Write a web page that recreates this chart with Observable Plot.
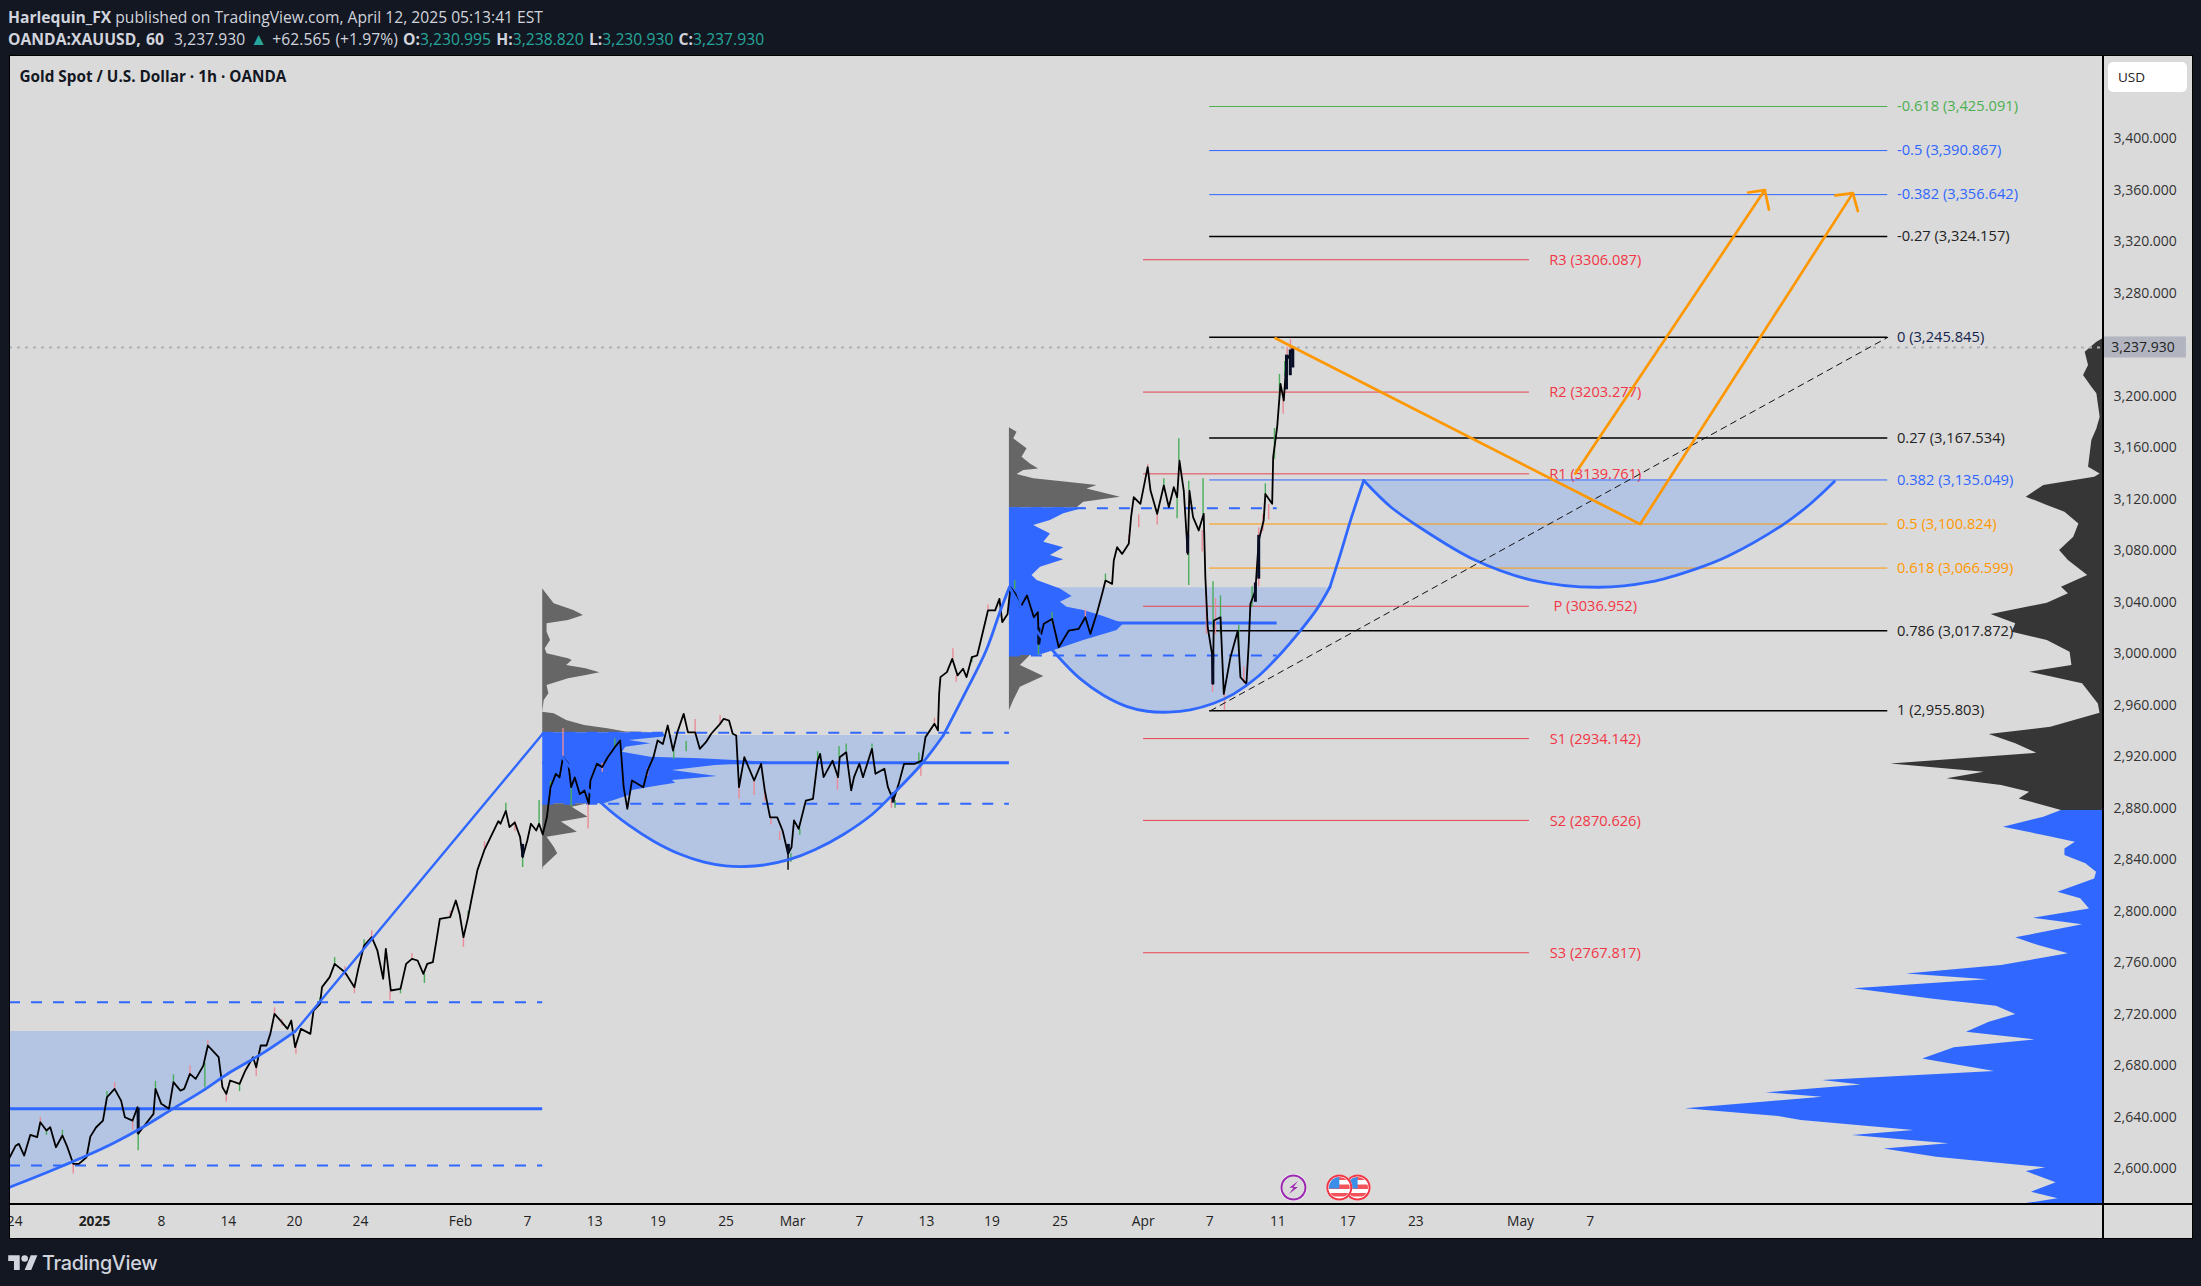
<!DOCTYPE html>
<html><head><meta charset="utf-8">
<script src="https://cdn.jsdelivr.net/npm/d3@7"></script>
<script src="https://cdn.jsdelivr.net/npm/@observablehq/plot@0.6"></script>
<style>
html,body{margin:0;padding:0;background:#131722;width:2201px;height:1286px;overflow:hidden}
body{position:relative;font-family:"Open Sans",sans-serif;color:#d1d4dc}
.h{position:absolute;left:8px;white-space:nowrap;font-size:15.65px;line-height:20px}
.h b{font-weight:700}.t{color:#26a69a}
#chart{position:absolute;left:9px;top:55px}
.ln{position:absolute;background:#000}
#usd{position:absolute;left:2108px;top:62px;width:79px;height:30px;background:#fff;border-radius:5px;color:#222;font-size:13.5px;line-height:30px;text-indent:10px}
#logo{position:absolute;left:8px;top:1251px;display:flex;align-items:center;color:#d1d4dc;font-family:Inter,sans-serif;font-weight:500;font-size:19.8px;letter-spacing:-.3px}
#logo svg{width:30px;height:23px;fill:#d1d4dc;margin-right:4px}
</style></head><body>
<div class="h" style="top:7px"><b>Harlequin_FX</b> published on TradingView.com, April 12, 2025 05:13:41 EST</div>
<div class="h" style="top:29px;word-spacing:1px;letter-spacing:.04px"><b>OANDA:XAUUSD, 60</b>&nbsp; 3,237.930 <span class="t" style="font-size:17px">▲</span> +62.565 (+1.97%) <b>O:</b><span class="t">3,230.995</span> <b>H:</b><span class="t">3,238.820</span> <b>L:</b><span class="t">3,230.930</span> <b>C:</b><span class="t">3,237.930</span></div>
<div id="chart"></div>
<div class="ln" style="left:9px;top:1203px;width:2183px;height:1.5px"></div>
<div class="ln" style="left:2102px;top:55px;width:1.5px;height:1184px"></div>
<div class="ln" style="left:9px;top:1238px;width:2184px;height:1px"></div>
<div class="ln" style="left:2192px;top:55px;width:1px;height:1184px"></div>
<div class="ln" style="left:9px;top:55px;width:2184px;height:1px"></div>
<div class="ln" style="left:8.5px;top:55px;width:1px;height:1184px"></div>
<div id="usd">USD</div>
<div id="logo"><svg viewBox="0 0 36 28"><path d="M14 22H7V11H0V4h14v18zM28 22h-8l7.5-18h8L28 22z"/><circle cx="20" cy="8" r="4"/></svg>TradingView</div>
<script>
// x unit: trading sessions counted from 2 Jan 2025; y unit: USD
const xDomain=[-5.114,120.82], yDomain=[2572.3,3464.7];
const priceTicks=[2600,2640,2680,2720,2760,2800,2840,2880,2920,2960,3000,3040,3080,3120,3160,3200,3280,3320,3360,3400];
const timeTicks=[-4.8,4.03,8.05,12.03,16,22.02,26.05,30.1,33.9,38,42,46.03,50.06,54,58.1,63.1,67.1,71.2,75.4,79.5,85.8,90];
const timeLabels=["24","8","14","20","24","Feb","7","13","19","25","Mar","7","13","19","25","Apr","7","11","17","23","May","7"];
const lastPrice=3237.93;
const fibLevels=[["-0.618",3425.091,"#4caf50"],["-0.5",3390.867,"#2f66ff"],["-0.382",3356.642,"#2f66ff"],["-0.27",3324.157,"#000"],["0",3245.845,"#000"],["0.27",3167.534,"#000"],["0.382",3135.049,"#2f66ff"],["0.5",3100.824,"#ff9800"],["0.618",3066.599,"#ff9800"],["0.786",3017.872,"#000"],["1",2955.803,"#000"]];
const pivots=[["R3",3306.087],["R2",3203.277],["R1",3139.761],["P",3036.952],["S1",2934.142],["S2",2870.626],["S3",2767.817]];
const closes=[[-5.1,2609],[-4.74,2618],[-4.55,2619.4],[-4.23,2610.3],[-3.86,2626.4],[-3.45,2624.6],[-3.26,2636.2],[-2.89,2629.8],[-2.66,2632.3],[-2.32,2616.8],[-1.93,2625.9],[-1.63,2616.8],[-1.28,2603.9],[-.94,2603.9],[-.48,2609],[-.25,2625],[.1,2632.3],[.51,2637.5],[.75,2655.6],[1.21,2662.1],[1.6,2653],[1.83,2640.1],[2.29,2637.5],[2.59,2647.9],[2.63,2627.2],[3.09,2635],[3.55,2642.7],[3.67,2662.1],[4.02,2650.5],[4.48,2646.6],[4.75,2667.3],[5.17,2660.8],[5.4,2662.1],[5.74,2673.8],[6.09,2669.9],[6.55,2680.2],[6.82,2695.8],[7.47,2686.7],[7.7,2663.4],[7.93,2658.2],[8.16,2668.6],[8.73,2666],[9.08,2676.4],[9.54,2686.7],[9.73,2678.9],[10,2695.8],[10.35,2695.8],[10.58,2704.8],[10.83,2720.4],[11.27,2713.9],[11.61,2708.7],[11.84,2715.2],[12.07,2694.5],[12.42,2708.7],[12.99,2704.8],[13.18,2722.9],[13.57,2728.1],[13.69,2741.1],[14.15,2748.9],[14.45,2759.2],[15.07,2752.7],[15.64,2741.1],[15.87,2755.3],[16.22,2773.4],[16.68,2779.9],[17.02,2769.6],[17.37,2747.6],[17.53,2770.9],[17.83,2738.5],[18.41,2739.8],[18.75,2759.2],[19.1,2763.1],[19.44,2761.8],[19.79,2751.4],[20.02,2759.2],[20.36,2760.5],[20.59,2778.6],[20.78,2794.2],[21.4,2795.5],[21.74,2808.4],[21.97,2798],[22.2,2779.9],[22.48,2795.5],[22.67,2808.4],[23.04,2832],[23.47,2848],[24.3,2870],
[24.43,2868],[24.75,2878],[24.97,2865.4],[25.29,2869],[25.61,2857.6],[25.76,2842],[26.04,2855],[26.26,2868],[26.58,2862.8],[26.75,2868],[26.97,2859.7],[27.22,2873],[27.44,2896.4],[27.76,2906.8],[27.98,2904],[28.19,2919.7],[28.51,2914.6],[28.68,2896.4],[28.9,2904],[29.2,2891],[29.48,2893.9],[29.74,2883.5],[29.84,2901.6],[30.23,2914.6],[30.55,2912],[30.88,2919.7],[31.31,2927.5],[31.63,2932.7],[31.84,2896.4],[32.06,2879.6],[32.34,2901.6],[33.02,2896.4],[33.28,2909.4],[33.63,2919.7],[33.88,2932.7],[34.2,2930],[34.49,2944.3],[34.81,2924.9],[35.07,2939],[35.45,2953.4],[35.71,2939],[36.14,2939],[36.42,2926.2],[36.79,2931.4],[37.11,2937.9],[37.64,2945.6],[37.86,2949.5],[38.18,2948.2],[38.4,2937.9],[38.61,2936.6],[38.78,2896.4],[39.1,2919.7],[39.69,2901.6],[40.11,2914.6],[40.33,2893.9],[40.65,2873],[41.08,2873],[41.4,2862.8],[41.73,2844.7],[41.94,2849.8],[42.09,2870.6],[42.37,2864],[42.8,2886],[43.23,2887.4],[43.51,2917],[43.66,2922.3],[43.87,2904.2],[44.41,2917],[44.74,2904.2],[44.84,2919.7],[45.23,2923.6],[45.53,2893.9],[45.7,2904.2],[46.02,2914.6],[46.24,2904.2],[46.78,2926.2],[46.99,2906.8],[47.53,2910.7],[47.74,2896.4],[48.07,2886],[48.39,2899],[48.71,2914.6],[49.36,2914.6],[49.78,2917],[50,2935.3],[50.54,2945.6],[50.75,2940.5],[50.82,2968.9],[50.9,2981.9],[51.29,2985.8],[51.61,2996.1],[51.93,2983.2],[52.26,2988.4],[52.47,2981.9],[52.79,2997.4],[53.11,2998.7],[53.33,3010.4],[53.76,3033.7],[54.19,3033.7],[54.45,3042.7],[54.62,3024.6],[54.94,3031],
[55.11,3051.7],[55.41,3046.6],[55.71,3036.2],[56.11,3045.3],[56.52,3028.4],[56.76,3032.3],[56.82,3007.7],[57.12,3023.3],[57.62,3027.1],[58.02,3005.1],[58.62,3018],[59.22,3019.4],[59.62,3028.4],[59.92,3015.5],[60.33,3032.3],[60.63,3046.6],[60.83,3056.9],[61.23,3054.3],[61.33,3072.5],[61.53,3082.8],[61.83,3077.6],[62.23,3085.4],[62.37,3106.1],[62.53,3121.6],[62.93,3116.5],[63.37,3145],[63.54,3126.8],[63.94,3108.7],[64.34,3130.7],[64.64,3113.9],[64.94,3129.4],[65.14,3121.6],[65.28,3150.1],[65.54,3126.8],[65.78,3077.6],[65.88,3126.8],[66.1,3106.1],[66.44,3095.8],[66.74,3108.7],[66.84,3059.5],[66.98,3020.7],[67.24,3000],[67.29,2976.7],[67.35,3025.9],[67.75,3028.4],[67.95,2968.9],[68.35,2997.4],[68.79,3018],[68.95,2981.8],[69.31,2976.7],[69.45,3007.7],[69.55,3038.8],[69.85,3049.2],[70.05,3088],[70.35,3103.5],[70.45,3124.2],[70.86,3116.5],[70.92,3152.7],[71.16,3176],[71.36,3209.7],[71.56,3196.7],[71.72,3227.8],[72.06,3235.6],[72.16,3237.93]];
// [session, low, high, up?]
const wicks=[[2.63,2614,2627,1],[-1.28,2596,2606,0],[6.64,2663,2682,1],[12.12,2689,2695,0],[17.78,2731,2738,0],[19.85,2744,2751,1],[22.2,2772,2780,0],[16.68,2780,2785,0],[15.64,2736,2741,0],[25.76,2834,2842,1],[26.75,2868,2886,1],[28.19,2917,2942,0],[29.7,2864,2884,0],[28.68,2881,2896,1],[34.85,2918,2925,1],[36.14,2937,2949,0],[35.6,2924,2932,1],[38.78,2887,2896,0],[39.69,2890,2901,0],[40.7,2867,2873,0],[41.23,2855,2862,0],[41.73,2832,2845,2],[41.9,2838,2845,1],[42.44,2859,2864,1],[44.7,2894,2904,0],[44.8,2919,2928,1],[46.78,2926,2930,1],[48.17,2880,2886,1],[47.95,2880,2888,0],[49.72,2905,2914,0],[49.6,2914,2923,1],[51.65,2996,3004,0],[51.85,2978,2983,0],[56.8,2999,3013,1],[65.24,3150,3167,1],[63.37,3145,3147,0],[62.83,3098,3108,0],[63.94,3100,3109,0],[65.14,3105,3121,1],[65.84,3053,3078,1],[65.84,3127,3134,1],[66.7,3108,3136,1],[66.65,3079,3096,0],[65.74,3078,3093,0],[66.9,3015,3049,0],[67.3,3020,3056,1],[67.27,2970,3000,0],[67.45,3015,3043,0],[67.75,3015,3045,1],[67.99,2956,2969,0],[68.85,3003,3022,1],[69.15,2977,2990,0],[69.65,3036,3052,1],[70.05,3052,3098,0],[70.3,3095,3108,0],[70.65,3104,3116,0],[70.45,3122,3132,1],[71,3151,3175,1],[71.3,3199,3217,1],[71.52,3186,3197,0],[71.76,3212,3238,0],[71.96,3220,3244,0],[71.62,3215,3227,1],
[-3.26,2636,2640,0],[-2.89,2626,2630,1],[-1.93,2626,2630,1],[.75,2655,2660,1],[1.21,2662,2667,0],[2.3,2630,2638,0],[3.67,2662,2668,1],[4.75,2667,2673,1],[5.74,2673,2680,0],[6.82,2696,2700,0],[7.93,2652,2658,0],[8.73,2660,2666,1],[9.73,2672,2679,0],[10.83,2720,2725,0],[11.27,2711,2716,0],[13.57,2728,2733,1],[14.45,2759,2764,1],[15.07,2750,2757,0],[16.22,2772,2778,1],[18.41,2736,2741,1],[19.1,2763,2767,0],[21.4,2796,2800,0],[22.48,2795,2800,1],[23.47,2848,2854,0],[24.75,2878,2884,1],[25.29,2862,2870,0],[27.44,2896,2901,1],[30.55,2908,2915,0],[31.31,2927,2934,1],[33.28,2905,2911,0],[37.64,2945,2952,0],[40.33,2885,2895,0],[43.51,2917,2924,1],[45.23,2924,2930,1],[50.54,2945,2950,0],[52.79,2993,2998,1],[53.76,3033,3038,0],[55.37,3050,3057,1],[57.62,3023,3032,1],[59.62,3028,3034,0],[60.83,3057,3062,1],[62.23,3085,3092,0],[64.34,3130,3136,1]];
const bodies=[[56.82,3007,3020],[65.78,3078,3092],[67.29,2976,3000],[69.85,3040,3055],[70.05,3058,3092],[71.72,3205,3232],[71.95,3216,3236],[72.1,3222,3237],[48.05,2884,2892],[41.75,2845,2852],[25.76,2842,2852],[2.63,2627,2647]];
const cup1=[[-5.11,2585.7],[-3.58,2593.5],[-1.86,2602.6],[-.36,2610.9],[1.25,2620.7],[2.98,2632.9],[4.71,2646.6],[6.43,2660],[8.16,2675],[10.23,2690.6],[12.07,2706.7]];
const rise1=[[12.07,2706.7],[26.97,2937.9]];
const cup2=[[26.97,2937.9],[28.3,2917],[29.59,2896.4],[30.66,2882.2],[32.17,2866.7],[33.67,2854.3],[35.17,2844.7],[36.68,2838.2],[37.97,2835.3],[39.15,2834.8],[40.33,2836.1],[41.83,2840.3],[43.34,2847.8],[45.06,2859.7],[46.78,2875.2],[48.07,2891.3],[49.78,2914.6],[51.07,2936.6]];
const rise2=[[51.07,2936.6],[52.36,2968.9],[53.65,3002.6],[54.51,3033.7],[55.05,3051.8]];
const cup3=[[55.05,3051.7],[56.52,3020.7],[57.92,2998.7],[59.32,2980.5],[60.73,2967.6],[62.13,2959],[63.33,2955.4],[64.64,2954.7],[65.94,2956.5],[67.35,2961.6],[68.55,2968.9],[69.95,2981.8],[71.36,2999.9],[72.56,3018],[73.56,3034.9],[74.33,3051.7]];
const rise3=[[74.33,3051.7],[74.97,3077.6],[75.57,3103.5],[76.37,3134.6]];
const cup4=[[76.37,3134.6],[78,3114],[79.66,3098.9],[83.03,3073],[86.4,3057.5],[90.43,3051.7],[93.62,3055.8],[96.45,3066.4],[98.3,3076],[101.56,3100],[103.2,3116],[104.69,3133.8]];
// volume profiles: [price, width in sessions]
const vp2Above=[[3050.5,0],[3047.9,.15],[3038.8,.69],[3033.7,1.87],[3029.8,2.45],[3025.9,1.55],[3023.3,.26],[3016.8,.26],[3010.4,.47],[3003.9,.15],[3000,.26],[2996.1,1.55],[2994.8,1.77],[2991,1.44],[2988.4,2.6],[2985.3,3.44],[2983.2,2.62],[2980.6,1.55],[2975.4,.26],[2968.9,.37],[2963.8,.09],[2954.7,0],[2953.4,.69],[2948.2,1.44],[2944.3,2.52],[2941.8,3.91],[2939.2,5],[2938.6,7.13]];
const vp2In=[[2938.6,7.13],[2937.3,7.35],[2935.3,7.3],[2932.7,5.2],[2930.1,6.5],[2927.5,5],[2923.6,4.8],[2919.7,6.5],[2918.5,9.5],[2915.9,13.6],[2913.3,10.4],[2909.4,7.8],[2904.7,10.5],[2901.6,7.8],[2899.5,8],[2896.4,6.5],[2893.9,5.4],[2890,5.2],[2886.1,4.3],[2883.5,3.7]];
const vp2Below=[[2883.5,2.73],[2880.9,1.77],[2873.1,2.73],[2869.3,1.12],[2861.5,2.08],[2857.6,.26],[2849.8,.69],[2844.7,.9],[2834.3,.04],[2831.7,0]];
const vp3Above=[[3175.5,0],[3172.1,.46],[3167,.26],[3163.1,.66],[3159.2,1.06],[3152.7,.76],[3147.5,1.26],[3143.6,1.76],[3142.4,.86],[3139.2,.46],[3135.9,1.46],[3133.3,3.47],[3130.7,5.27],[3128.1,4.67],[3121.6,6.68],[3117.8,4.47],[3113.4,4.07]];
const vp3In=[[3113.4,4.57],[3108.7,3.27],[3103.5,2.47],[3099.6,1.46],[3093.1,2.47],[3086.7,2.07],[3082.3,3.27],[3076.3,2.47],[3073,3.27],[3067.3,1.87],[3060.8,1.36],[3056.9,1.67],[3050.4,3.07],[3044.5,3.77],[3040.1,3.07],[3036.2,3.47],[3033.6,4.47],[3029.7,5.48],[3023.3,6.88],[3018.1,6.48],[3014.2,5.48],[3010.3,4.47],[3003.8,2.97],[2998.7,1.77]];
const vp3Below=[[2998.7,1.26],[2990.9,.66],[2982.4,2.07],[2974.1,.66],[2963.7,.26],[2955.9,0]];
const vpRightGrey=[[3244.6,0],[3242,.34],[3234.2,1.04],[3223.9,.84],[3216.1,1.14],[3207,.64],[3201.9,.34],[3183.7,.14],[3174.7,.34],[3165.6,.64],[3144.9,.84],[3139.7,.14],[3137.2,.47],[3130.7,3.53],[3121.7,4.59],[3115.2,3.32],[3110,2.26],[3100.9,1.42],[3090.6,1.73],[3080.2,2.58],[3072.5,2.05],[3060.8,.89],[3051.7,2.47],[3046.6,2.05],[3039.3,3.32],[3030.5,6.7],[3023.3,5.22],[3016.8,5.43],[3010.3,3.32],[3001.3,1.95],[2990.9,1.84],[2985.7,4.38],[2976.7,1.2],[2961.1,.25],[2953.9,.15],[2943,3.11],[2937.3,6.81],[2930.1,5.22],[2922.8,3.95],[2914.5,12.73],[2908,7.12],[2902.9,9.34],[2897.7,6.07],[2892.5,4.38],[2887.3,5.01],[2878.3,2.47]];
const vpRightBlue=[[2878.3,2.47],[2873.1,3.53],[2865.3,5.96],[2858.9,3.53],[2853.7,1.63],[2848.5,2.26],[2843.3,2.26],[2836.9,1],[2830.4,.36],[2825.2,.47],[2814.9,2.68],[2809.7,1.31],[2801.9,.78],[2794.7,4.16],[2789.5,1.2],[2779.4,5.22],[2773.4,3.85],[2767,2.05],[2757.9,6.07],[2751.4,11.78],[2746.8,6.91],[2739.8,14.95],[2732,10.3],[2726.3,6.38],[2719.9,5.22],[2713.9,6.81],[2706.1,8.18],[2700.2,4.06],[2694,8.92],[2685.4,10.82],[2675.6,6.49],[2668.6,16.85],[2665.2,14.52],[2659,20.23],[2655.6,16.85],[2651.2,20.97],[2646.6,25.1],[2640.6,19.49],[2637.5,18.12],[2629.8,11.35],[2625.9,15.05],[2619.4,9.24],[2615.5,13.15],[2609,9.98],[2600.8,3.42],[2597.9,4.59],[2589.1,2.79],[2581.9,4.27],[2576.7,2.68],[2572.8,4.69]];
const ranges=[
 {s0:-5.114,s1:26.97,poc:2646.6,va:[2729.4,2602.6]},
 {s0:26.97,s1:55.05,poc:2915.3,va:[2938.6,2883.5]},
 {s0:55.05,s1:71.16,poc:3024,va:[3113.1,2998.7]}];
const orange1=[[71.06,3245.1],[93,3100.7],[105.8,3357.8]];
const orange1Head=[[104.75,3356],[105.8,3357.8],[106.1,3343.8]];
const orange2=[[89.1,3140],[100.5,3360.2]];
const orange2Head=[[99.5,3358.3],[100.5,3360.2],[100.75,3345]];
const trend=[[67.15,2955.8],[107.9,3245.8]];
const events=[[76,"us"],[74.9,"us"],[72.14,"bolt"]];
const eventPrice=2585.5;

const BLUE="#3068ff",FILL="#b4c5e4",PINK="#ea8c97",GREEN="#4aad5b",FONT='"Open Sans",sans-serif';
const xy=a=>({x:d=>d[0],y:d=>d[1]});
const usIcon="data:image/svg+xml,"+encodeURIComponent('<svg xmlns="http://www.w3.org/2000/svg" viewBox="0 0 28 28"><circle cx="14" cy="14" r="13" fill="#fff"/><clipPath id="c"><circle cx="14" cy="14" r="10.5"/></clipPath><g clip-path="url(#c)"><rect width="28" height="28" fill="#fff"/><rect x="0" y="11" width="28" height="4.5" fill="#f2545b"/><rect x="0" y="19.5" width="28" height="3.5" fill="#f2545b"/><rect x="0" y="3" width="28" height="3.5" fill="#f2545b"/><rect x="3" y="3" width="11" height="12" fill="#3a8fe8"/></g><circle cx="14" cy="14" r="12" fill="none" stroke="#f23645" stroke-width="2"/></svg>');
const boltIcon="data:image/svg+xml,"+encodeURIComponent('<svg xmlns="http://www.w3.org/2000/svg" viewBox="0 0 28 28"><circle cx="14" cy="14" r="13.5" fill="#fff"/><circle cx="14" cy="14" r="12" fill="#dadada" stroke="#9c27b0" stroke-width="2"/><path d="M18.5 7.5 10 14.2h4.2L9.5 20.5l9-7h-4.4z" fill="#9c27b0"/></svg>');

const vp=(data,base,fill,dir=1)=>Plot.areaX(data,{y:d=>d[0],x1:()=>base,x2:d=>base+dir*d[1],fill,curve:"linear"});
const area=(data,top)=>Plot.areaY(data,{x:d=>d[0],y1:()=>top,y2:d=>d[1],fill:FILL,curve:"catmull-rom",clip:true});
const cupLine=data=>Plot.line(data,{...xy(),stroke:BLUE,strokeWidth:2.8,curve:"catmull-rom",clip:true});
const orange=data=>Plot.line(data,{...xy(),stroke:"#ff9800",strokeWidth:2.7});
const fmtFib=d3.format(",.3f");

const chart=Plot.plot({
 width:2183,height:1184,marginLeft:0,marginRight:90,marginTop:0,marginBottom:35,
 style:{background:"#dadada",overflow:"hidden",fontFamily:FONT,color:"#333"},
 x:{domain:xDomain,axis:null},y:{domain:yDomain,axis:null},
 marks:[
  area(cup1,2706.7),area(cup2,2936.6),area(cup3,3051.4),area(cup4,3134.6),
  // volume profiles
  vp(vp2Above,26.97,"#666"),vp(vp2Below,26.97,"#666"),vp(vp2In,26.97,BLUE),
  vp(vp3Above,55.05,"#666"),vp(vp3Below,55.05,"#666"),vp(vp3In,55.05,BLUE),
  vp(vpRightGrey,xDomain[1],"#363636",-1),vp(vpRightBlue,xDomain[1],BLUE,-1),
  // POC and value-area lines
  Plot.ruleY(ranges,{y:"poc",x1:"s0",x2:"s1",stroke:BLUE,strokeWidth:3}),
  Plot.ruleY(ranges.flatMap(r=>r.va.map(v=>({...r,v}))),{y:"v",x1:"s0",x2:"s1",stroke:BLUE,strokeWidth:2,strokeDasharray:"11 11"}),
  // last price
  Plot.ruleY([lastPrice],{stroke:"#aeb1ba",strokeWidth:2.2,strokeDasharray:"3 5"}),
  // pivots
  Plot.ruleY(pivots,{y:d=>d[1],x1:()=>63.12,x2:()=>86.34,stroke:"#e84350",strokeWidth:1}),
  Plot.text(pivots,{x:()=>90.3,y:d=>d[1],dy:.5,text:d=>`${d[0]} (${d[1].toFixed(3)})`,fill:"#f23645",fontSize:14.6}),
  // fib levels
  Plot.ruleY(fibLevels,{y:d=>d[1],x1:()=>67.1,x2:()=>107.9,stroke:d=>d[2],strokeWidth:d=>d[2]==="#000"?1.5:1}),
  // candles
  Plot.ruleX(wicks,{x:d=>d[0],y1:d=>d[1],y2:d=>d[2],stroke:d=>d[3]===1?GREEN:d[3]===0?PINK:"#000",strokeWidth:1.4}),
  Plot.line(closes,{...xy(),stroke:"#000",strokeWidth:1.8}),
  Plot.ruleX(bodies,{x:d=>d[0],y1:d=>d[1],y2:d=>d[2],stroke:"#060d24",strokeWidth:3}),
  // cups
  cupLine(cup1),Plot.line(rise1,{...xy(),stroke:BLUE,strokeWidth:2.4}),
  cupLine(cup2),cupLine(rise2),cupLine(cup3),cupLine(rise3),cupLine(cup4),
  // forecast
  Plot.line(trend,{...xy(),stroke:"#111",strokeWidth:1,strokeDasharray:"6 5"}),
  orange(orange1),orange(orange1Head),orange(orange2),orange(orange2Head),
  Plot.text(fibLevels,{x:()=>108.45,y:d=>d[1],textAnchor:"start",text:d=>`${d[0]} (${fmtFib(d[1])})`,fontSize:14.7,
    fill:d=>d[0]==="0"?"#131f4d":d[2]==="#000"?"#222":d[2]}),
  // events
  Plot.image(events,{x:d=>d[0],y:()=>eventPrice,width:28,height:28,src:d=>d[1]==="us"?usIcon:boltIcon}),
  // axes
  Plot.axisY({anchor:"right",ticks:priceTicks,tickSize:0,tickPadding:11,fontSize:14,tickFormat:d3.format(",.3f"),label:null,fill:"#333"}),
  Plot.rect([lastPrice],{x1:()=>120.88,x2:()=>125.87,y1:d=>d-8.2,y2:d=>d+8.2,fill:"#b2b5c0"}),
  Plot.text([lastPrice],{x:()=>121.35,y:d=>d,text:d=>fmtFib(d),textAnchor:"start",fontSize:14,fill:"#222"}),
  Plot.axisX({anchor:"bottom",ticks:timeTicks,tickSize:0,tickPadding:12,fontSize:13.8,label:null,fill:"#222",tickFormat:d=>timeLabels[timeTicks.indexOf(d)]}),
  Plot.axisX({anchor:"bottom",ticks:[0],tickSize:0,tickPadding:12,fontSize:13.8,fontWeight:700,label:null,fill:"#222",tickFormat:()=>"2025"}),
  Plot.text(["Gold Spot / U.S. Dollar · 1h · OANDA"],{frameAnchor:"top-left",dx:10,dy:15.5,lineAnchor:"top",text:d=>d,fontWeight:700,fontSize:15.3,fill:"#131722"})
 ]
});
document.getElementById("chart").append(chart);
</script>
</body></html>
